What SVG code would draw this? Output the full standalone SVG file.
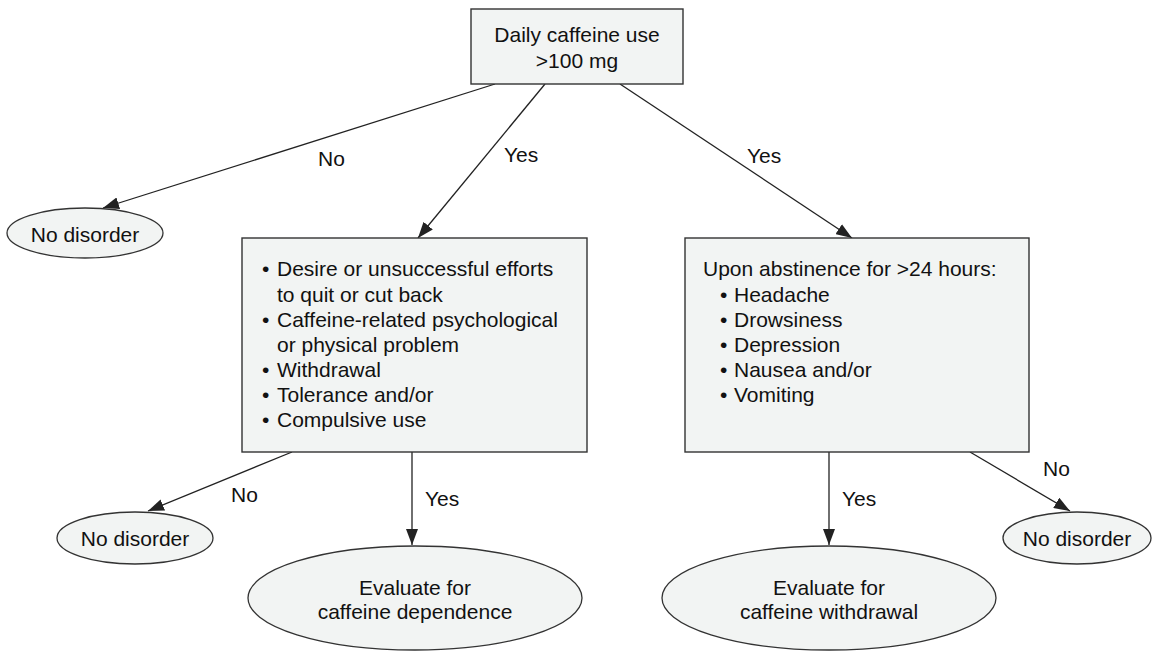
<svg xmlns="http://www.w3.org/2000/svg" width="1160" height="651" viewBox="0 0 1160 651">
  <style>
    .box { fill: #f2f4f3; stroke: #333333; stroke-width: 1.4; }
    .oval { fill: #f2f4f3; stroke: #333333; stroke-width: 1.3; }
    .edge { fill: none; stroke: #222222; stroke-width: 1.3; }
    text { font-family: "Liberation Sans", Arial, Helvetica, sans-serif; font-size: 21px; fill: #111111; }
    .mid { text-anchor: middle; }
  </style>
  <defs>
    <marker id="arrow" markerUnits="userSpaceOnUse" markerWidth="17" markerHeight="12" refX="16" refY="6" orient="auto">
      <path d="M0,0 L16,6 L0,12 z" fill="#222222"/>
    </marker>
  </defs>
  <rect width="1160" height="651" fill="#ffffff"/>

  <!-- connectors -->
  <g id="connectors">
    <line class="edge" x1="495" y1="84" x2="103" y2="208" marker-end="url(#arrow)"/>
    <line class="edge" x1="545" y1="84" x2="418" y2="238" marker-end="url(#arrow)"/>
    <line class="edge" x1="620" y1="84" x2="852" y2="238" marker-end="url(#arrow)"/>
    <line class="edge" x1="292" y1="452" x2="148" y2="511" marker-end="url(#arrow)"/>
    <line class="edge" x1="412" y1="452" x2="412" y2="545" marker-end="url(#arrow)"/>
    <line class="edge" x1="829" y1="452" x2="829" y2="545" marker-end="url(#arrow)"/>
    <line class="edge" x1="970" y1="452" x2="1070" y2="511" marker-end="url(#arrow)"/>
    <text x="318" y="166">No</text>
    <text x="504" y="162">Yes</text>
    <text x="747" y="163">Yes</text>
    <text x="231" y="502">No</text>
    <text x="425" y="506">Yes</text>
    <text x="842" y="506">Yes</text>
    <text x="1043" y="476">No</text>
  </g>

  <g id="start">
    <rect class="box" x="471" y="9" width="212" height="75"/>
    <text class="mid" x="577" y="42">Daily caffeine use</text>
    <text class="mid" x="577" y="68">&gt;100 mg</text>
  </g>

  <g id="no-disorder-1">
    <ellipse class="oval" cx="85" cy="233" rx="78" ry="25"/>
    <text class="mid" x="85" y="242">No disorder</text>
  </g>

  <g id="dependence-criteria">
    <rect class="box" x="242" y="238" width="345" height="214"/>
    <text x="262" y="276">•</text><text x="277" y="276">Desire or unsuccessful efforts</text>
    <text x="277" y="302">to quit or cut back</text>
    <text x="262" y="327">•</text><text x="277" y="327">Caffeine-related psychological</text>
    <text x="277" y="352">or physical problem</text>
    <text x="262" y="377">•</text><text x="277" y="377">Withdrawal</text>
    <text x="262" y="402">•</text><text x="277" y="402">Tolerance and/or</text>
    <text x="262" y="427">•</text><text x="277" y="427">Compulsive use</text>
  </g>

  <g id="withdrawal-criteria">
    <rect class="box" x="685" y="238" width="344" height="214"/>
    <text x="703" y="276">Upon abstinence for &gt;24 hours:</text>
    <text x="720" y="302">•</text><text x="734" y="302">Headache</text>
    <text x="720" y="327">•</text><text x="734" y="327">Drowsiness</text>
    <text x="720" y="352">•</text><text x="734" y="352">Depression</text>
    <text x="720" y="377">•</text><text x="734" y="377">Nausea and/or</text>
    <text x="720" y="402">•</text><text x="734" y="402">Vomiting</text>
  </g>

  <g id="no-disorder-2">
    <ellipse class="oval" cx="135" cy="538" rx="78" ry="26"/>
    <text class="mid" x="135" y="546">No disorder</text>
  </g>

  <g id="evaluate-dependence">
    <ellipse class="oval" cx="415" cy="598" rx="167" ry="52"/>
    <text class="mid" x="415" y="595">Evaluate for</text>
    <text class="mid" x="415" y="619">caffeine dependence</text>
  </g>

  <g id="evaluate-withdrawal">
    <ellipse class="oval" cx="829" cy="598" rx="167" ry="52"/>
    <text class="mid" x="829" y="595">Evaluate for</text>
    <text class="mid" x="829" y="619">caffeine withdrawal</text>
  </g>

  <g id="no-disorder-3">
    <ellipse class="oval" cx="1077" cy="538" rx="74" ry="26"/>
    <text class="mid" x="1077" y="546">No disorder</text>
  </g>
</svg>
